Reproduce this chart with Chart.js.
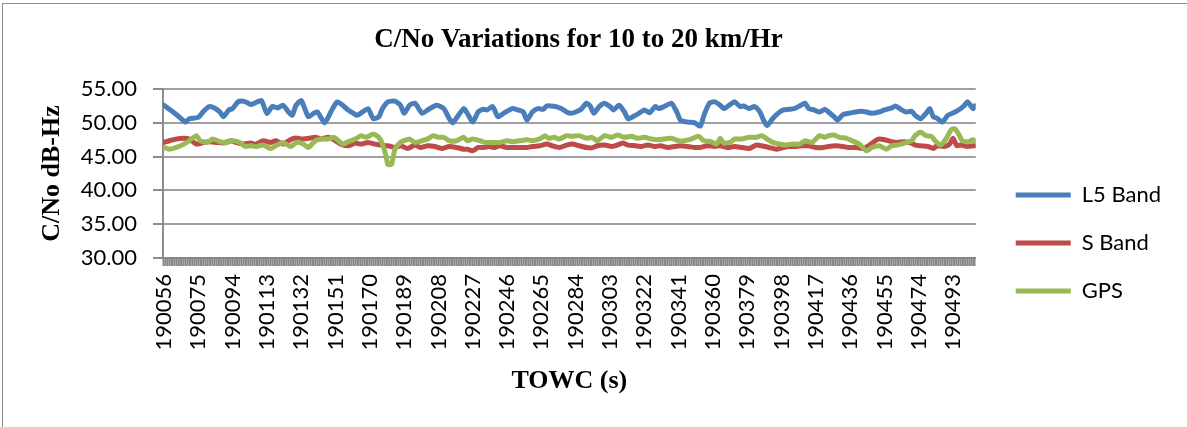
<!DOCTYPE html>
<html lang="en">
<head>
<meta charset="UTF-8">
<title>C/No Variations for 10 to 20 km/Hr</title>
<script src="https://cdn.jsdelivr.net/npm/chart.js"></script>
<style>
  html, body { margin: 0; padding: 0; background: #fff; overflow: hidden; }
  #frame {
    position: absolute; left: 2px; top: 3px; width: 1300px; height: 500px;
    border-left: 1px solid #8c8c8c; border-top: 1px solid #8c8c8c;
  }
  #chart { position: absolute; left: 0; top: 0; }
</style>
</head>
<body>
<div id="frame"></div>
<canvas id="chart" width="1187" height="427"></canvas>
<script>
// TOWC seconds, first and last sample
const towcStart = 190056;
const towcEnd = 190505;
const xTickLabels = ['190056','190075','190094','190113','190132','190151','190170','190189',
  '190208','190227','190246','190265','190284','190303','190322','190341','190360','190379',
  '190398','190417','190436','190455','190474','190493'];

// L5 Band (seconds after towcStart, dB-Hz)
const l5Sec = [0,3,7,12,14,19,22,25,28,31, 33,36,38,41,44,46,48,51,54,57,
  60,63,66,69,71,73,76,80,83,85, 89,93,96,99,102,105,107,110,113,116,
  119,121,124,128,131,133,136,139,143,146, 151,155,158,160,163,166,168,171,174,177,
  179,182,185,188,190,193,196,199,201,204, 207,210,212,214,217,220,223,225,228,231,
  234,236,238,241,244,247,249,252,255,257, 261,263,266,269,272,274,277,281,284,286,
  290,294,297,299,302,305,308,310,313,316, 319,321,324,327,330,332,334,337,340,343,
  346,349,352,355,357,360,363,366,368,371, 373,376,379,383,386,389,392,396,399,403,
  405,408,411,414,416,419,422,424,426,428, 431,434,438,440,443,445,448,449];
const l5Val = [52.6,52.0,51.2,50.1,50.6,50.8,51.7,52.4,52.2,51.6, 50.9,51.9,52.1,53.1,53.2,53.0,52.7,53.0,53.3,51.4,
  52.4,52.2,52.6,51.6,51.1,52.5,53.3,50.9,51.4,51.6, 50.0,51.9,53.1,52.6,51.9,51.4,51.1,51.6,52.1,50.6,
  50.9,52.1,53.1,53.2,52.6,51.4,52.6,52.9,51.4,51.9, 52.6,52.1,50.6,50.0,51.1,52.1,51.4,50.1,51.6,52.0,
  51.9,52.4,50.9,51.4,51.7,52.1,51.9,51.6,50.4,51.6, 52.1,52.0,52.5,52.5,52.4,52.1,51.6,51.4,51.6,52.0,
  52.9,52.5,51.4,52.4,52.9,52.4,51.9,52.6,51.6,50.6, 51.1,51.4,51.9,51.5,52.4,52.1,52.4,52.9,51.6,50.4,
  50.1,50.0,49.5,51.1,52.9,53.1,52.6,52.1,52.6,53.1, 52.4,52.5,52.1,52.4,51.6,50.4,49.6,50.6,51.4,51.9,
  52.0,52.1,52.5,52.9,52.1,51.9,51.6,52.0,51.6,50.9, 50.4,51.2,51.4,51.6,51.7,51.6,51.4,51.6,51.9,52.2,
  52.5,52.0,51.6,51.7,51.1,50.6,51.4,52.1,50.9,50.7, 50.1,51.1,51.6,51.9,52.5,53.1,52.1,52.5];

// S Band
const sSec = [0,3,7,11,14,18,22,25,29,33, 37,40,44,48,51,55,59,62,66,70,
  73,76,80,84,87,91,95,98,102,106, 109,113,117,120,124,128,131,135,139,142,
  146,150,154,158,162,166,168,171,174,177, 180,183,186,190,193,197,201,204,208,212,
  215,219,223,226,230,234,237,240,244,248, 251,254,257,261,264,268,272,275,279,283,
  286,290,294,297,301,305,308,312,316,320, 324,328,331,335,339,343,346,350,354,357,
  361,365,368,372,376,379,383,387,390,394, 396,399,403,406,410,414,416,419,423,426,
  428,432,435,437,439,441,445,448,449];
const sVal = [47.1,47.35,47.6,47.7,47.6,46.85,47.1,47.2,47.1,47.0, 47.35,47.1,46.85,47.0,46.85,47.35,47.1,47.35,46.85,47.5,
  47.75,47.6,47.7,47.85,47.6,47.85,47.35,46.85,46.6,47.0, 46.85,47.1,46.85,46.7,46.6,46.35,46.6,46.2,46.7,46.35,
  46.6,46.5,46.2,46.5,46.35,46.1,46.1,45.85,46.35,46.35, 46.5,46.35,46.6,46.35,46.35,46.35,46.35,46.5,46.6,46.85,
  46.6,46.35,46.7,46.85,46.6,46.35,46.3,46.6,46.7,46.5, 46.7,47.0,46.7,46.6,46.5,46.7,46.5,46.6,46.35,46.5,
  46.6,46.5,46.35,46.35,46.6,46.5,46.6,46.35,46.5,46.35, 46.2,46.7,46.6,46.35,46.1,46.35,46.5,46.5,46.6,46.6,
  46.35,46.35,46.5,46.6,46.5,46.35,46.35,46.2,46.6,47.35, 47.6,47.5,47.2,47.1,47.2,47.0,46.7,46.6,46.5,46.2,
  46.6,46.5,46.85,47.7,46.6,46.7,46.5,46.6,46.6];

// GPS
const gpsSec = [0,3,7,11,14,18,20,24,27,31, 35,38,42,45,48,51,55,59,62,66,
  70,73,75,78,80,82,84,87,91,94, 96,99,102,106,109,112,116,119,121,123,
  124,126,128,131,133,136,139,143,146,149, 152,155,158,162,166,168,171,175,178,182,
  186,190,193,197,201,204,208,211,213,216, 219,223,226,230,234,237,240,244,248,251,
  255,259,262,266,270,273,277,281,285,288, 292,296,299,303,306,308,310,314,316,320,
  324,328,331,334,337,341,344,348,352,355, 359,363,366,368,371,374,378,381,385,389,
  392,396,400,403,406,410,414,416,419,422, 425,427,430,433,436,438,440,442,445,448,
  449];
const gpsVal = [46.35,46.1,46.35,46.85,47.35,48.1,47.35,47.1,47.6,47.2, 47.1,47.35,47.1,46.5,46.6,46.5,46.7,46.2,46.6,47.1,
  46.5,47.0,47.1,46.7,46.35,46.85,47.35,47.6,47.6,47.85, 47.5,46.85,47.2,47.6,48.1,47.85,48.35,47.85,46.85,45.1,
  43.85,43.85,46.1,47.1,47.35,47.6,47.1,47.35,47.6,48.1, 47.85,47.85,47.35,47.35,47.85,47.35,47.6,47.35,47.1,47.1,
  47.1,47.35,47.2,47.35,47.5,47.35,47.6,48.1,47.7,47.85, 47.6,48.1,48.0,48.1,47.7,47.85,47.35,48.1,47.85,48.2,
  47.85,48.0,47.7,47.85,47.6,47.5,47.6,47.7,47.35,47.35, 47.6,48.0,47.35,47.2,46.85,47.7,47.0,47.2,47.6,47.6,
  47.85,47.85,48.1,47.6,47.1,46.85,46.7,46.85,46.85,47.35, 47.1,48.1,47.85,48.1,48.2,47.85,47.7,47.35,46.85,45.85,
  46.35,46.6,46.1,46.6,46.7,47.0,47.35,48.1,48.6,48.1, 48.0,47.35,46.7,47.6,49.0,49.1,48.35,47.35,47.2,47.5,
  47.35];

function toPoints(sec, val) {
  return sec.map((s, i) => ({ x: towcStart + s, y: val[i] }));
}

const serifBold = { family: 'Liberation Serif', size: 26, weight: 'bold' };
const tickFont = { family: 'Lato', size: 22 };

// nudge the legend to where Excel put it
const legendNudge = {
  id: 'legendNudge',
  afterLayout(chart) {
    const lg = chart.legend;
    if (!lg) return;
    lg.left += 14; lg.right += 14;
    lg.top += 158; lg.bottom += 158;
  }
};

function line(label, sec, val, color, order) {
  return {
    label: label,
    data: toPoints(sec, val),
    borderColor: color,
    backgroundColor: color,
    borderWidth: 5,
    pointRadius: 0,
    tension: 0.2,
    borderCapStyle: 'round',
    borderJoinStyle: 'round',
    order: order
  };
}

Chart.defaults.color = '#000';

new Chart(document.getElementById('chart'), {
  type: 'line',
  data: {
    datasets: [
      line('L5 Band', l5Sec, l5Val, '#4a7ebb', 3),
      line('S Band', sSec, sVal, '#be4b48', 2),
      line('GPS', gpsSec, gpsVal, '#98b954', 1)
    ]
  },
  options: {
    responsive: false,
    animation: false,
    layout: { padding: { left: 0, right: 30, top: 0, bottom: 0 } },
    plugins: {
      title: {
        display: true,
        text: 'C/No Variations for 10 to 20 km/Hr',
        font: { family: 'Liberation Serif', size: 27, weight: 'bold' },
        color: '#000',
        padding: { top: 24, bottom: 32.6 }
      },
      legend: {
        position: 'right',
        align: 'start',
        labels: {
          usePointStyle: true,
          pointStyle: 'line',
          pointStyleWidth: 55,
          font: tickFont,
          color: '#000',
          padding: 26,
          sort: (a, b) => a.datasetIndex - b.datasetIndex
        }
      },
      tooltip: { enabled: false }
    },
    scales: {
      x: {
        type: 'linear',
        min: towcStart - 0.5,
        max: towcEnd + 0.5,
        afterBuildTicks: (s) => {
          s.ticks = [];
          for (let v = towcStart; v <= towcEnd; v++) s.ticks.push({ value: v });
        },
        ticks: {
          autoSkip: false,
          minRotation: 90,
          maxRotation: 90,
          padding: 8,
          font: tickFont,
          color: '#000',
          callback: (v) => xTickLabels.includes(String(v)) ? String(v) : ''
        },
        grid: { drawOnChartArea: false, tickLength: 8, tickWidth: 2, tickColor: '#878787' },
        border: { color: '#878787', width: 2 },
        title: { display: true, text: 'TOWC (s)', font: serifBold, color: '#000', padding: { top: 0, bottom: 30 } },
        afterFit: (s) => { s.height = 169; }
      },
      y: {
        min: 30,
        max: 55,
        ticks: {
          stepSize: 5,
          font: tickFont,
          color: '#000',
          padding: 16,
          callback: (v) => v.toFixed(2)
        },
        grid: { color: '#a0a0a0', lineWidth: 2, tickLength: 10, tickColor: '#8c8c8c', tickWidth: 2 },
        border: { color: '#8c8c8c', width: 2 },
        title: { display: true, text: 'C/No dB-Hz', font: serifBold, color: '#000', padding: { top: 37, bottom: 0 } },
        afterFit: (s) => { s.width = 163; }
      }
    }
  },
  plugins: [legendNudge]
});
</script>
</body>
</html>
